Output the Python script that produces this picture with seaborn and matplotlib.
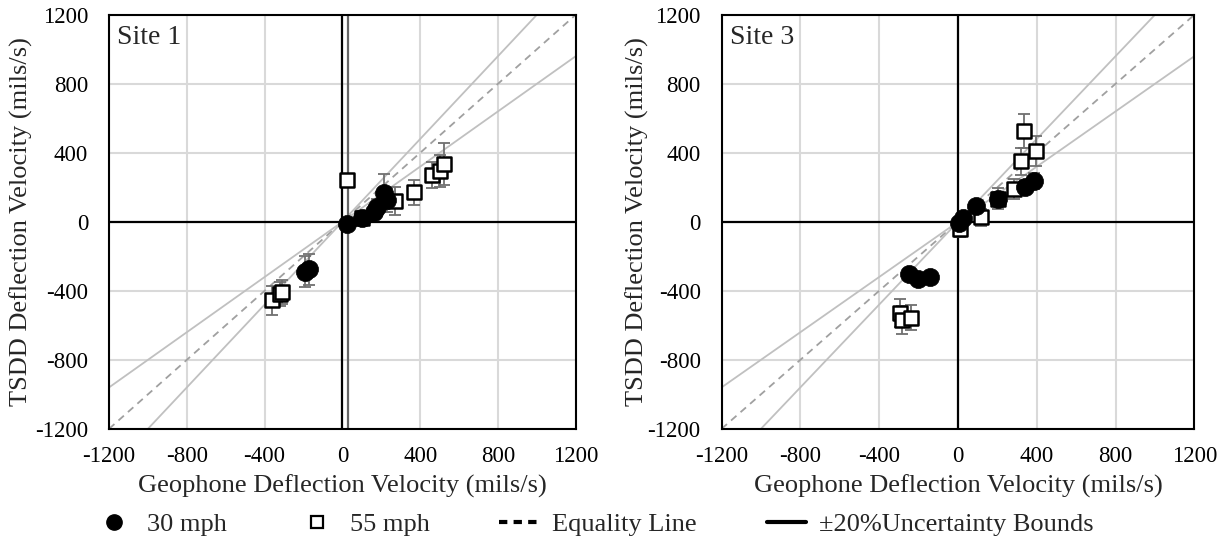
import numpy as np
import pandas as pd
import matplotlib
matplotlib.use("Agg")
import matplotlib.pyplot as plt
import seaborn as sns
from matplotlib.lines import Line2D

# ---- data ----
site1_30_x = [-190, -170, 25, 100, 160, 180, 215, 230]
site1_30_y = [-290, -275, -15, 20, 55, 85, 165, 125]
site1_30_err = [90, 90, 20, 30, 40, 50, 110, 70]

site1_55_x = [-360, -320, -310, 25, 100, 270, 370, 460, 500, 525]
site1_55_y = [-455, -420, -405, 240, 20, 120, 170, 270, 295, 335]
site1_55_err = [85, 70, 70, 0, 40, 80, 70, 75, 95, 120]

site3_30_x = [-250, -205, -140, 5, 25, 90, 205, 340, 385]
site3_30_y = [-300, -330, -320, -5, 20, 92, 130, 200, 235]
site3_30_err = [20, 20, 20, 20, 20, 25, 40, 40, 45]

site3_55_x = [-295, -285, -240, 10, 115, 205, 285, 320, 335, 395]
site3_55_y = [-530, -570, -555, -40, 25, 135, 190, 350, 525, 410]
site3_55_err = [80, 80, 70, 50, 50, 60, 60, 80, 100, 85]

ticks = [-1200, -800, -400, 0, 400, 800, 1200]
site_labels = ["Site 1", "Site 3"]

sns.set_theme(style="white")
plt.rcParams['font.family'] = ['Liberation Serif', 'DejaVu Serif']
plt.rcParams['axes.unicode_minus'] = False

fig = plt.figure(figsize=(12.25, 5.47), dpi=100)
axes = [fig.add_axes([0.089, 0.216, 0.381, 0.757]),
        fig.add_axes([0.589, 0.216, 0.386, 0.757])]
ylabel_x = [-0.162, -0.153]

data = [
    (site1_30_x, site1_30_y, site1_30_err, site1_55_x, site1_55_y, site1_55_err),
    (site3_30_x, site3_30_y, site3_30_err, site3_55_x, site3_55_y, site3_55_err),
]

line_x = np.array([-1200, 1200])
for i, (ax, d) in enumerate(zip(axes, data)):
    x30, y30, e30, x55, y55, e55 = d
    ax.set_xlim(-1200, 1200)
    ax.set_ylim(-1200, 1200)
    ax.set_xticks(ticks)
    ax.set_yticks(ticks)
    ax.grid(True, color='#d9d9d9', linewidth=1.5, zorder=0)
    ax.set_axisbelow(True)
    # reference lines
    ax.plot(line_x, line_x, ls=(0, (4, 3)), color='#a0a0a0', lw=1.3, zorder=1)
    ax.plot(line_x, 1.2 * line_x, color='#c0c0c0', lw=1.3, zorder=1)
    ax.plot(line_x, 0.8 * line_x, color='#c0c0c0', lw=1.3, zorder=1)
    ax.axhline(0, color='black', lw=1.6, zorder=2)
    ax.axvline(0, color='black', lw=1.6, zorder=2)
    if i == 0:
        ax.axvline(28, color='#666666', lw=1.6, zorder=2)
    # error bars
    ax.errorbar(x55, y55, yerr=e55, fmt='none', ecolor='#707070', elinewidth=1.3,
                capsize=4.5, capthick=1.3, zorder=3)
    ax.errorbar(x30, y30, yerr=e30, fmt='none', ecolor='#707070', elinewidth=1.3,
                capsize=4.5, capthick=1.3, zorder=3)
    df55 = pd.DataFrame({'x': x55, 'y': y55})
    df30 = pd.DataFrame({'x': x30, 'y': y30})
    sns.scatterplot(data=df55, x='x', y='y', ax=ax, marker='s', s=115,
                    facecolor='white', edgecolor='black', linewidth=1.8, zorder=4)
    sns.scatterplot(data=df30, x='x', y='y', ax=ax, marker='o', s=170,
                    color='black', edgecolor='black', linewidth=0.5, zorder=5)
    for sp in ax.spines.values():
        sp.set_color('black')
        sp.set_linewidth(1.5)
    ax.tick_params(axis='x', labelsize=16.5, length=0, pad=12, colors='black')
    ax.tick_params(axis='y', labelsize=16.5, length=0, pad=15, colors='black')
    ax.set_xlabel('Geophone Deflection Velocity (mils/s)', fontsize=19, labelpad=6)
    ax.set_ylabel('TSDD Deflection Velocity (mils/s)', fontsize=19)
    ax.yaxis.set_label_coords(ylabel_x[i], 0.5)
    ax.text(0.018, 0.975, site_labels[i], transform=ax.transAxes, fontsize=20,
            ha='left', va='top')

handles = [
    Line2D([], [], marker='o', color='black', ls='none', markersize=11),
    Line2D([], [], marker='s', markerfacecolor='white', markeredgecolor='black',
           ls='none', markersize=9, markeredgewidth=1.6),
    Line2D([], [], color='black', ls=(0, (2, 1.5)), lw=3),
    Line2D([], [], color='black', ls='-', lw=3),
]
labels = ['30 mph', '55 mph', 'Equality Line', '\u00b120%Uncertainty Bounds']
fig.legend(handles, labels, loc='center', bbox_to_anchor=(0.485, 0.042), ncol=4,
           frameon=False, fontsize=19, columnspacing=2.65, handlelength=1.5,
           handletextpad=0.5, borderpad=0.1)

fig.savefig('out.png', dpi=100)
